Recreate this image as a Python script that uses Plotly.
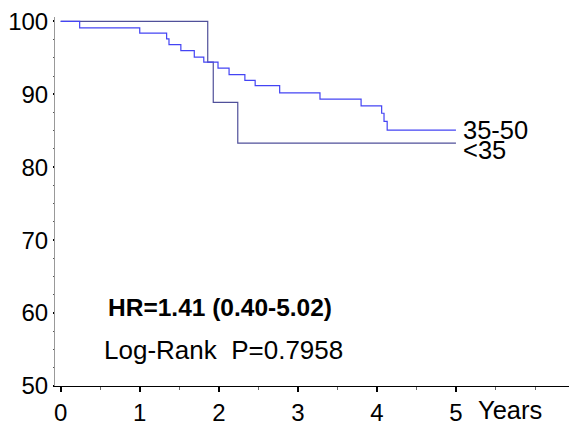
import plotly.graph_objects as go

# Kaplan-Meier style step data (years, % surviving)
t_3550 = [0, 0.24, 1.0, 1.34, 1.37, 1.52, 1.69, 1.81, 1.99, 2.13, 2.33, 2.46, 2.77,
          3.28, 3.80, 4.06, 4.09, 4.13, 5.0]
s_3550 = [100, 99.1, 98.4, 97.6, 96.8, 96.0, 95.1, 94.4, 93.6, 92.7, 91.9, 91.2, 90.2,
          89.35, 88.4, 87.4, 86.3, 85.1, 85.1]

t_lt35 = [0, 1.86, 1.93, 2.24, 5.0]
s_lt35 = [100, 94.4, 88.9, 83.3, 83.3]

x_ticks = [0, 1, 2, 3, 4, 5]
y_ticks = [50, 60, 70, 80, 90, 100]

FONT = "Arial, Liberation Sans, sans-serif"

fig = go.Figure()
fig.add_trace(go.Scatter(x=t_lt35, y=s_lt35, mode="lines", line_shape="hv",
                         line=dict(color="#50509a", width=1.2), name="<35"))
fig.add_trace(go.Scatter(x=t_3550, y=s_3550, mode="lines", line_shape="hv",
                         line=dict(color="#4444f4", width=1.2), name="35-50"))

fig.add_annotation(x=5.07, y=85.1, text="35-50", showarrow=False, xanchor="left",
                   yanchor="middle", font=dict(family=FONT, size=25.5, color="black"))
fig.add_annotation(x=5.07, y=82.4, text="<35", showarrow=False, xanchor="left",
                   yanchor="middle", font=dict(family=FONT, size=25.5, color="black"))
fig.add_annotation(x=0.57, y=60.7, text="<b>HR=1.41 (0.40-5.02)</b>", showarrow=False,
                   xanchor="left", yanchor="middle", font=dict(family=FONT, size=24.5, color="black"))
fig.add_annotation(x=0.52, y=54.9, text="Log-Rank  P=0.7958", showarrow=False,
                   xanchor="left", yanchor="middle", font=dict(family=FONT, size=26, color="black"))
fig.add_annotation(x=5.25, y=0, yref="paper", yshift=-24, text="Years", showarrow=False,
                   xanchor="left", yanchor="middle", font=dict(family=FONT, size=25.5, color="black"))

fig.update_layout(
    width=569, height=426,
    margin=dict(l=55, r=0, t=17, b=40),
    paper_bgcolor="white", plot_bgcolor="white",
    showlegend=False,
    font=dict(family=FONT, size=24, color="black"),
)
fig.update_xaxes(range=[-0.072, 6.43], tickvals=x_ticks, ticks="outside", ticklen=5,
                 tickwidth=2, tickcolor="black", showline=True, linecolor="black",
                 linewidth=1, showgrid=False, zeroline=False, automargin=False,
                 minor=dict(dtick=0.5, tick0=0, ticks="outside", ticklen=3,
                            tickcolor="#666", tickwidth=1),
                 tickfont=dict(family=FONT, size=24, color="black"))
fig.update_yaxes(range=[50, 100.6], tickvals=y_ticks, ticks="outside", ticklen=1,
                 tickwidth=1.5, tickcolor="black", showline=True, linecolor="#999",
                 linewidth=1, showgrid=False, zeroline=False, automargin=False,
                 minor=dict(dtick=2.5, tick0=50, ticks="outside", ticklen=1,
                            tickcolor="#555", tickwidth=1),
                 tickfont=dict(family=FONT, size=24, color="black"))

fig.write_html("out.html", config={"displayModeBar": False},
               post_script="document.body.style.margin='0';document.body.style.overflow='hidden';")
